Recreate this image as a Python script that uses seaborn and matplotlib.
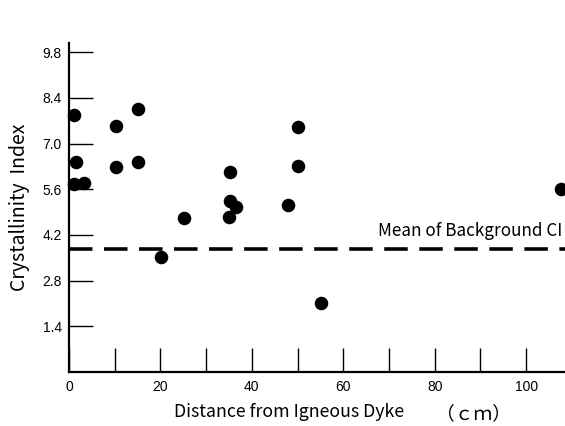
import numpy as np
import pandas as pd
from matplotlib import pyplot as plt
import seaborn as sns

# distance from dyke (cm) and crystallinity index
distance = [1.1, 1.5, 1.0, 3.3, 10.2, 10.2, 15.1, 15.1, 20.1, 25.2,
            35.2, 35.2, 36.6, 35.1, 48.0, 50.2, 50.2, 55.1, 107.7]
crystallinity = [7.87, 6.43, 5.77, 5.79, 7.54, 6.29, 8.05, 6.43, 3.52, 4.72,
                 6.13, 5.24, 5.04, 4.74, 5.12, 7.52, 6.30, 2.11, 5.60]
background_mean = 3.76
y_ticks = [1.4, 2.8, 4.2, 5.6, 7.0, 8.4, 9.8]
x_major = [0, 20, 40, 60, 80, 100]
x_minor = [10, 30, 50, 70, 90]

df = pd.DataFrame({'distance': distance, 'ci': crystallinity})

sns.set_theme(style='white')
plt.rcParams['font.family'] = ['Liberation Sans', 'DejaVu Sans']
jp = ['Noto Sans CJK JP', 'DejaVu Sans']

fig = plt.figure(figsize=(5.65, 4.26), dpi=100)
ax = fig.add_axes([0.122, 0.127, 0.878, 0.772])

sns.scatterplot(data=df, x='distance', y='ci', ax=ax, color='black',
                s=95, edgecolor='black', linewidth=0, zorder=3, clip_on=False)
ax.axhline(background_mean, color='black', lw=2.6, dashes=(6.5, 3.2))
ax.text(67.5, 4.05, 'Mean of Background CI', fontsize=12.3, color='black',
        family=jp, va='bottom')

ax.set_xlim(0, 108.5)
ax.set_ylim(0, 10.08)
ax.set_xticks(x_major)
ax.set_xticks(x_minor, minor=True)
ax.set_yticks(y_ticks)
ax.set_yticklabels([f'{v:.1f}' for v in y_ticks])
ax.tick_params(axis='both', which='both', direction='in', length=17,
               width=1.0, color='black', labelsize=10, pad=5, colors='black')
ax.tick_params(axis='x', which='minor', bottom=True)
ax.tick_params(axis='x', which='major', bottom=True, pad=6)
ax.tick_params(axis='y', left=True)

for side in ['top', 'right']:
    ax.spines[side].set_visible(False)
for side in ['left', 'bottom']:
    ax.spines[side].set_color('black')
    ax.spines[side].set_linewidth(1.6)

ax.set_xlabel('Distance from Igneous Dyke', fontsize=12.8,
              family=jp, color='black')
ax.xaxis.set_label_coords(0.443, -0.096)
ax.text(0.816, -0.096, '（ｃｍ）', transform=ax.transAxes, fontsize=13.5,
        family=jp, color='black', ha='center', va='top')
ax.set_ylabel('Crystallinity  Index', fontsize=14, family=jp, color='black')
ax.yaxis.set_label_coords(-0.078, 0.5)

fig.savefig('out.png', dpi=100)
